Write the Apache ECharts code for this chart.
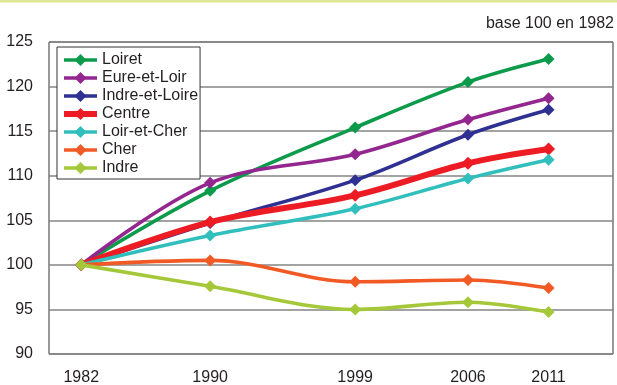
<!DOCTYPE html>
<html>
<head>
<meta charset="utf-8">
<script src="https://cdn.jsdelivr.net/npm/echarts@6/dist/echarts.min.js"></script>
<style>
  html, body { margin: 0; padding: 0; background: #ffffff; }
  #chart { width: 617px; height: 385px; }
</style>
</head>
<body>
<div id="chart"></div>
<script>
// Census years (x positions are proportional to time)
const years = [1982, 1990, 1999, 2006, 2011];

// Population index, base 100 in 1982
const loiret        = [100, 108.3, 115.4, 120.5, 123.1];
const eureEtLoir    = [100, 109.2, 112.4, 116.3, 118.7];
const indreEtLoire  = [100, 104.7, 109.5, 114.6, 117.4];
const centre        = [100, 104.8, 107.8, 111.4, 113.0];
const loirEtCher    = [100, 103.3, 106.3, 109.7, 111.8];
const cher          = [100, 100.5, 98.1, 98.3, 97.4];
const indre         = [100, 97.6, 95.0, 95.8, 94.7];

const seriesNames = ['Loiret', 'Eure-et-Loir', 'Indre-et-Loire', 'Centre', 'Loir-et-Cher', 'Cher', 'Indre'];
const seriesValues = [loiret, eureEtLoir, indreEtLoire, centre, loirEtCher, cher, indre];
const seriesColors = ['#0c9b4b', '#93278f', '#2e3192', '#ed1c24', '#30bfbc', '#f15a24', '#a5c83a'];

const font = "'Liberation Sans', Arial, sans-serif";
const textColor = '#231f20';

const chart = echarts.init(document.getElementById('chart'), null, { renderer: 'canvas' });

const series = seriesNames.map((name, i) => {
  const isCentre = name === 'Centre';
  return {
    name: name,
    type: 'line',
    data: years.map((y, j) => [y, seriesValues[i][j]]),
    smooth: 0.35,
    symbol: 'diamond',
    symbolSize: isCentre ? 13 : 12,
    showSymbol: true,
    color: seriesColors[i],
    lineStyle: { width: isCentre ? 6 : 3.6, color: seriesColors[i] },
    itemStyle: { color: seriesColors[i], borderWidth: 0 },
    emphasis: { disabled: true },
    z: 2 + i
  };
});

chart.setOption({
  animation: false,
  backgroundColor: '#ffffff',
  textStyle: { fontFamily: font, color: textColor },
  graphic: [{
    type: 'rect',
    left: 0, top: 0,
    shape: { width: 617, height: 2.5 },
    style: { fill: '#dde693' },
    silent: true
  }],
  title: {
    text: 'base 100 en 1982',
    right: 0,
    top: 11,
    padding: [5, 3, 5, 3],
    textStyle: { fontFamily: font, fontSize: 16, fontWeight: 'normal', color: textColor }
  },
  grid: {
    left: 49, right: 4, top: 42, bottom: 31,
    outerBoundsMode: 'none',
    containLabel: false,
    show: true,
    borderColor: '#333333',
    borderWidth: 1,
    backgroundColor: 'transparent'
  },
  legend: {
    orient: 'vertical',
    left: 57,
    top: 47,
    padding: [5, 2, 3, 4],
    itemGap: 2,
    itemWidth: 33,
    itemHeight: 15,
    backgroundColor: '#ffffff',
    borderColor: '#333333',
    borderWidth: 1,
    borderRadius: 0,
    selectedMode: false,
    data: seriesNames,
    lineStyle: { width: 'inherit' },
    textStyle: { fontFamily: font, fontSize: 16, color: textColor, lineHeight: 16 }
  },
  xAxis: {
    type: 'value',
    min: 1980,
    max: 2015,
    axisLine: { show: false },
    axisTick: { show: false },
    splitLine: { show: false },
    axisLabel: {
      customValues: years,
      formatter: (v) => String(v),
      margin: 16,
      fontFamily: font,
      fontSize: 16,
      color: textColor
    }
  },
  yAxis: {
    type: 'value',
    min: 90,
    max: 125,
    interval: 5,
    axisLine: { show: false },
    axisTick: { show: false },
    splitLine: { show: true, lineStyle: { color: '#858585', width: 1.5 } },
    axisLabel: {
      margin: 16,
      fontFamily: font,
      fontSize: 16,
      color: textColor
    }
  },
  series: series
});
</script>
</body>
</html>
